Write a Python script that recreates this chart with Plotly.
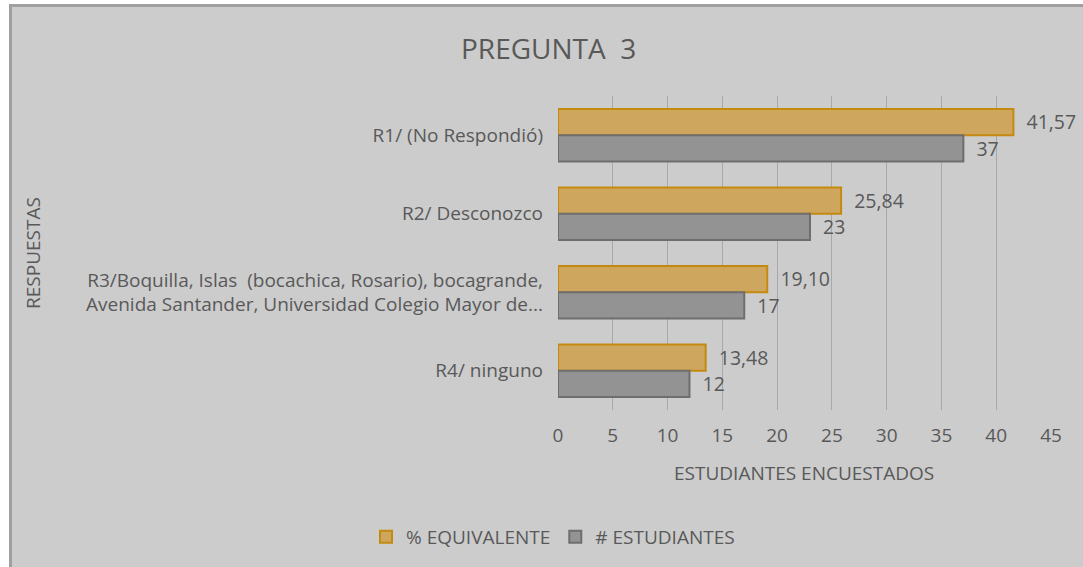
import plotly.graph_objects as go

# Survey results for question 3
categorias = [
    "R1/ (No Respondió)",
    "R2/ Desconozco",
    "R3/Boquilla, Islas  (bocachica, Rosario), bocagrande,<br>Avenida Santander, Universidad Colegio Mayor de...",
    "R4/ ninguno",
]
porcentaje = [41.57, 25.84, 19.10, 13.48]
estudiantes = [37, 23, 17, 12]
ticks_x = [0, 5, 10, 15, 20, 25, 30, 35, 40, 45]

W, H = 1083, 567
L, R, T, B = 558, 32, 96, 157
PW, PH = W - L - R, H - T - B

def px_x(p):
    return (p - L) / PW

def px_y(p):
    return (H - B - p) / PH

FONT = "Open Sans"
TXT = "#595959"
PAD = "\u00a0\u00a0"  # small gap between bar end and its value label

fig = go.Figure()
fig.add_trace(go.Bar(
    y=categorias, x=porcentaje, orientation="h", name="% EQUIVALENTE",
    marker=dict(color="#cfa65e", line=dict(color="#c48a10", width=2)),
    text=porcentaje, texttemplate=PAD + "%{x:.2f}", textposition="outside",
    textfont=dict(family=FONT, size=20, color=TXT), cliponaxis=False,
))
fig.add_trace(go.Bar(
    y=categorias, x=estudiantes, orientation="h", name="# ESTUDIANTES",
    marker=dict(color="#939393", line=dict(color="#6e6e6e", width=2)),
    text=estudiantes, texttemplate=PAD + "%{x}", textposition="outside",
    textfont=dict(family=FONT, size=20, color=TXT), cliponaxis=False,
))

fig.update_layout(
    width=W, height=H,
    margin=dict(l=L, r=R, t=T, b=B, autoexpand=False),
    paper_bgcolor="white", plot_bgcolor="rgba(0,0,0,0)",
    separators=",.",
    barmode="group", bargap=0.33, bargroupgap=0,
    font=dict(family=FONT, color=TXT, size=19),
    showlegend=True,
    legend=dict(orientation="h", x=px_x(553), xanchor="center",
                y=px_y(537), yanchor="middle", bgcolor="rgba(0,0,0,0)",
                itemwidth=30,
                font=dict(family=FONT, size=19, color=TXT), traceorder="normal"),
    xaxis=dict(range=[0, 45], tickvals=ticks_x, showgrid=True,
               gridcolor="#a8a8a8", gridwidth=1, zeroline=False, showline=False,
               ticks="", ticklabelstandoff=12,
               tickfont=dict(family=FONT, size=19, color=TXT)),
    yaxis=dict(autorange="reversed", showgrid=False, zeroline=False,
               showline=False, ticks="", ticklabelstandoff=14,
               tickfont=dict(family=FONT, size=19, color=TXT)),
    shapes=[dict(type="rect", xref="paper", yref="paper", layer="below",
                 x0=px_x(10.5), x1=px_x(1100), y0=px_y(5.5), y1=px_y(600),
                 fillcolor="#cccccc", line=dict(color="#a0a0a0", width=3))],
    annotations=[
        dict(text="PREGUNTA  3", xref="paper", yref="paper", x=px_x(548), y=px_y(48),
             xanchor="center", yanchor="middle", showarrow=False,
             font=dict(family=FONT, size=28, color=TXT)),
        dict(text="ESTUDIANTES ENCUESTADOS", xref="paper", yref="paper",
             x=px_x(804), y=px_y(473), xanchor="center", yanchor="middle",
             showarrow=False, font=dict(family=FONT, size=19, color=TXT)),
        dict(text="RESPUESTAS", xref="paper", yref="paper", textangle=-90,
             x=px_x(33), y=px_y(253), xanchor="center", yanchor="middle",
             showarrow=False, font=dict(family=FONT, size=19, color=TXT)),
    ],
)

fig.write_html("out.html")
